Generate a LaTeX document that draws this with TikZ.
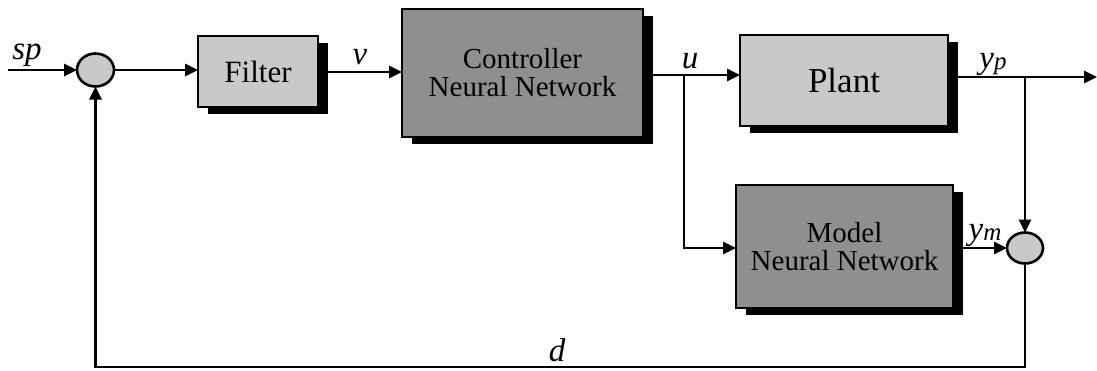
\documentclass[tikz,border=0pt]{standalone}
\usepackage{fontspec}
\setmainfont{Liberation Serif}
\usetikzlibrary{shapes.geometric,arrows.meta,shadows}

\definecolor{lightdot}{HTML}{C9C9C9}
\definecolor{darkdot}{HTML}{8F8F8F}

\newcommand{\lbl}[1]{{\fontsize{33}{34}\selectfont\itshape #1}}
\newcommand{\subl}[1]{\raisebox{-0.35ex}{\fontsize{25}{25}\selectfont\itshape #1}}

\begin{document}
\begin{tikzpicture}[x=1pt,y=-1pt,
  wire/.style={line width=2.7pt},
  arr/.style={wire,-{Triangle[length=13pt,width=12pt]}},
  block/.style={draw=black,line width=2pt,rectangle,outer sep=0pt,inner sep=0pt,
    align=center,
    drop shadow={shadow xshift=10pt,shadow yshift=-7pt,fill=black,opacity=1}},
  lightblock/.style={block,fill=lightdot},
  darkblock/.style={block,fill=darkdot},
  sumjunction/.style={draw=black,line width=2.6pt,ellipse,fill=lightdot,
    inner sep=0pt,outer sep=0pt}
]
\useasboundingbox (0,0) rectangle (1097,370);

% blocks
\node[lightblock,minimum width=120pt,minimum height=71pt,
  font=\fontsize{31}{34}\selectfont] (filter) at (258,71.5) {Filter};
\node[darkblock,minimum width=241pt,minimum height=128pt,
  font=\fontsize{29}{29}\selectfont] (ctrl) at (522.5,73) {Controller\\[-1pt]Neural Network};
\node[lightblock,minimum width=208pt,minimum height=91pt,
  font=\fontsize{35}{38}\selectfont] (plant) at (844,80.5) {Plant};
\node[darkblock,minimum width=217pt,minimum height=123pt,
  font=\fontsize{29}{29}\selectfont] (model) at (844.5,246.5) {Model\\[-1pt]Neural Network};

% summing junctions
\node[sumjunction,minimum width=37pt,minimum height=33pt] (sum1) at (95.5,70) {};
\node[sumjunction,minimum width=36pt,minimum height=31pt] (sum2) at (1025,248) {};

% connection points
\coordinate (in) at (8,70);
\coordinate (ubr) at (684,75);
\coordinate (ybr) at (1025,77);
\coordinate (out) at (1097,77);
\coordinate (fbR) at (1025,367);
\coordinate (fbL) at (95.5,367);

% forward path
\draw[arr] (in) -- (sum1.west);
\draw[arr] (sum1.east) -- (filter.west |- sum1.east);
\draw[arr] (filter.east |- 0,72) -- (ctrl.west |- 0,72);
\draw[wire] (ctrl.east |- ubr) -- (ubr);
\draw[arr] (ubr) -- (plant.west |- ubr);
\draw[arr] (ubr) |- (model.west |- sum2.west);
\draw[wire] (plant.east |- ybr) -- (ybr);
\draw[arr] (ybr) -- (out);
\draw[arr] (ybr) -- (sum2.north);
\draw[arr] (model.east |- sum2.west) -- (sum2.west);

% feedback path
\draw[arr] (sum2.south) -- (fbR) -- (fbL) -- (sum1.south);

% signal labels
\node (lsp) at (27,55) {\lbl{sp}};
\node (lv) at (360,57) {\lbl{v}};
\node (lu) at (690,61) {\lbl{u}};
\node (lyp) at (993,64) {\lbl{y}\subl{p}};
\node (lym) at (985,235) {\lbl{y}\subl{m}};
\node (ld) at (557,350) {\lbl{d}};
\end{tikzpicture}
\end{document}
